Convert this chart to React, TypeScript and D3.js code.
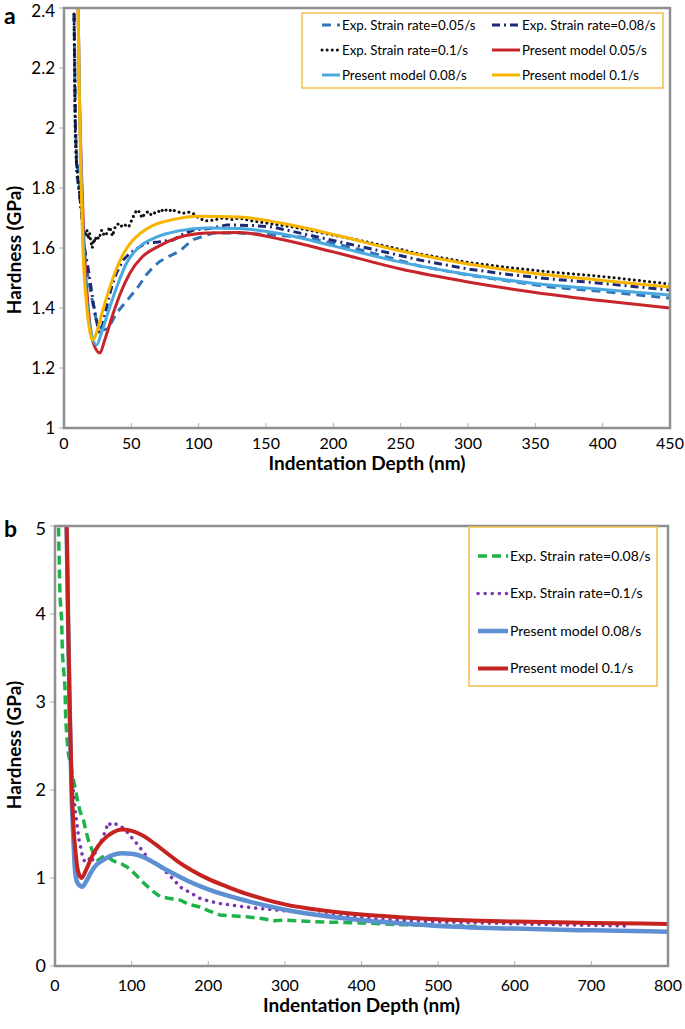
import React from "react";
import * as d3 from "d3";

type P = [number, number];

// ---------- Panel a data (Indentation depth nm, Hardness GPa) ----------
const aTicksX = [0, 50, 100, 150, 200, 250, 300, 350, 400, 450];
const aTicksY = [1, 1.2, 1.4, 1.6, 1.8, 2, 2.2, 2.4];

const aExp005: P[] = [
  [7.5, 2.38], [8, 2.2], [8.5, 2.0], [9.5, 1.9], [11, 1.82], [12.5, 1.78], [13.5, 1.7], [14.5, 1.62],
  [16, 1.55], [18, 1.5], [20, 1.45], [22, 1.4], [24, 1.36], [26, 1.34], [29, 1.327], [32, 1.33],
  [35, 1.35], [39, 1.383], [44, 1.41], [49, 1.437], [55, 1.47], [61, 1.51], [66, 1.535], [71, 1.555],
  [78, 1.572], [86, 1.59], [91, 1.61], [96, 1.628], [104, 1.64], [111, 1.65], [130, 1.65], [150, 1.645],
  [180, 1.635], [210, 1.605], [240, 1.57], [264, 1.54], [300, 1.51], [330, 1.49], [361, 1.47],
  [400, 1.455], [450, 1.433],
];
const aExp008: P[] = [
  [7.5, 2.38], [8, 2.2], [8.5, 2.0], [9.5, 1.85], [11, 1.8], [13, 1.72], [14.5, 1.62], [16, 1.58],
  [18, 1.53], [20, 1.47], [22, 1.41], [24, 1.36], [26, 1.32], [28, 1.33], [30, 1.37], [33, 1.43],
  [36, 1.48], [39, 1.517], [44, 1.56], [49, 1.583], [55, 1.6], [61, 1.617], [70, 1.62], [81, 1.627],
  [88, 1.645], [96, 1.66], [108, 1.665], [121, 1.677], [140, 1.675], [155, 1.67], [180, 1.645],
  [210, 1.615], [240, 1.585], [264, 1.56], [300, 1.53], [330, 1.512], [361, 1.497], [400, 1.482], [450, 1.46],
];
const aExp01: P[] = [
  [7.4, 2.38], [7.6, 2.3], [7.8, 2.2], [8, 2.1], [8.3, 2.0], [8.6, 1.95], [9, 1.9], [10, 1.85],
  [11, 1.8], [12, 1.76], [13, 1.72], [14, 1.68], [15, 1.66], [16, 1.64], [17, 1.66], [18, 1.63],
  [19, 1.65], [20, 1.62], [21, 1.6], [22, 1.63], [23, 1.62], [24, 1.64], [26, 1.63], [28, 1.66],
  [30, 1.64], [32, 1.65], [34, 1.67], [36, 1.64], [38, 1.67], [40, 1.68], [42, 1.67], [44, 1.68],
  [46, 1.675], [48, 1.67], [50, 1.69], [52, 1.71], [54, 1.727], [56, 1.72], [58, 1.7], [60, 1.715],
  [62, 1.72], [64, 1.71], [66, 1.72], [68, 1.715], [70, 1.72], [72, 1.73], [74, 1.72], [76, 1.727],
  [78, 1.73], [80, 1.72], [82, 1.725], [85, 1.72], [88, 1.715], [92, 1.72], [96, 1.715], [100, 1.7],
  [105, 1.69], [111, 1.693], [118, 1.7], [125, 1.695], [130, 1.7], [140, 1.69], [155, 1.68],
  [170, 1.67], [192, 1.65], [220, 1.625], [250, 1.595], [264, 1.58], [300, 1.552], [330, 1.535],
  [361, 1.52], [400, 1.505], [430, 1.49], [450, 1.48],
];
const aModel005: P[] = [
  [9.8, 2.6], [10.5, 2.4], [11.5, 2.1], [13, 1.85], [15, 1.6], [18, 1.4], [21.8, 1.283], [26.7, 1.25],
  [30, 1.29], [36.6, 1.383], [42, 1.45], [49, 1.517], [58, 1.57], [69, 1.603], [85, 1.635], [106, 1.65],
  [130, 1.652], [160, 1.63], [200, 1.587], [250, 1.53], [300, 1.487], [350, 1.452], [400, 1.424], [450, 1.4],
];
const aModel008: P[] = [
  [9.8, 2.6], [10.5, 2.4], [11.5, 2.1], [12.8, 1.85], [14.5, 1.6], [17, 1.42], [20, 1.32], [24.3, 1.277],
  [28, 1.32], [34, 1.403], [40, 1.48], [46.5, 1.55], [55, 1.6], [69, 1.637], [85, 1.657], [106, 1.667],
  [130, 1.665], [160, 1.648], [200, 1.607], [250, 1.553], [300, 1.512], [350, 1.482], [400, 1.462], [450, 1.443],
];
const aModel01: P[] = [
  [9.8, 2.6], [10.5, 2.4], [11.4, 2.1], [12.5, 1.85], [14, 1.6], [16, 1.45], [18.5, 1.34], [21.5, 1.293],
  [25, 1.33], [28, 1.38], [32, 1.44], [38, 1.52], [44, 1.58], [50, 1.62], [57, 1.65], [65, 1.673],
  [81, 1.695], [100, 1.706], [130, 1.703], [160, 1.684], [200, 1.645], [250, 1.59], [300, 1.547],
  [350, 1.515], [400, 1.492], [450, 1.47],
];
const aLegendLabels = [
  "Exp. Strain rate=0.05/s", "Exp. Strain rate=0.08/s", "Exp. Strain rate=0.1/s",
  "Present model 0.05/s", "Present model 0.08/s", "Present model 0.1/s",
];

// ---------- Panel b data ----------
const bTicksX = [0, 100, 200, 300, 400, 500, 600, 700, 800];
const bTicksY = [0, 1, 2, 3, 4, 5];

const bExp008: P[] = [
  [4, 5.3], [5, 4.8], [6.5, 4.2], [8.7, 3.93], [9.6, 3.56], [11, 3.4], [13, 3.17], [14, 2.8],
  [15.5, 2.6], [17.4, 2.42], [20, 2.3], [23, 2.15], [26, 2.04], [30, 1.85], [33, 1.75], [37, 1.66],
  [40, 1.55], [43.5, 1.43], [47, 1.35], [50, 1.28], [56.5, 1.2], [62, 1.24], [69.6, 1.24], [75, 1.2],
  [80, 1.18], [87, 1.16], [95, 1.12], [104, 1.05], [115, 0.95], [126, 0.86], [137, 0.79], [148, 0.77],
  [163, 0.75], [175, 0.7], [189, 0.67], [200, 0.63], [215, 0.58], [230, 0.57], [250, 0.56], [270, 0.54],
  [285, 0.515], [300, 0.52], [350, 0.5], [400, 0.49], [450, 0.47], [500, 0.46], [550, 0.45],
];
const bExp01: P[] = [
  [14, 5.3], [16, 4.5], [17, 3.93], [18, 3.3], [19.5, 2.6], [21, 2.3], [23.5, 2.03], [26, 1.8],
  [28, 1.66], [31, 1.45], [35, 1.28], [38, 1.2], [41, 1.18], [45, 1.22], [48, 1.18], [52, 1.28],
  [56, 1.36], [61, 1.43], [65, 1.52], [69.6, 1.63], [73, 1.6], [78, 1.62], [82, 1.6], [87, 1.58],
  [92, 1.55], [96, 1.5], [104, 1.42], [113, 1.32], [124, 1.2], [130, 1.17], [140, 1.11], [146, 1.06],
  [155, 0.98], [163, 0.9], [175, 0.84], [189, 0.77], [200, 0.74], [215, 0.71], [240, 0.68], [260, 0.66],
  [285, 0.64], [320, 0.61], [372, 0.57], [424, 0.53], [503, 0.5], [600, 0.48], [680, 0.465], [746, 0.455],
];
const bModel008: P[] = [
  [14, 5.6], [15.2, 5.0], [17, 4.0], [19, 3.0], [21.5, 2.0], [24, 1.45], [26, 1.1], [29, 0.95],
  [33, 0.91], [35.7, 0.9], [40, 0.95], [46, 1.05], [52, 1.13], [62, 1.2], [75, 1.26], [87, 1.28],
  [100, 1.275], [115, 1.24], [130, 1.17], [150, 1.07], [175, 0.96], [200, 0.87], [250, 0.74],
  [300, 0.64], [350, 0.57], [400, 0.52], [450, 0.485], [500, 0.455], [600, 0.425], [700, 0.405], [800, 0.39],
];
const bModel01: P[] = [
  [14, 5.6], [15.2, 5.0], [17, 4.0], [19, 3.0], [21.8, 2.03], [24, 1.6], [27, 1.28], [30, 1.08],
  [34.8, 1.0], [40, 1.08], [48, 1.24], [56, 1.36], [65, 1.45], [76, 1.52], [87, 1.55], [100, 1.535],
  [115, 1.48], [130, 1.39], [145, 1.29], [160, 1.19], [180, 1.08], [200, 0.99], [225, 0.9], [250, 0.82],
  [275, 0.755], [300, 0.7], [350, 0.63], [400, 0.585], [450, 0.555], [500, 0.53], [600, 0.505],
  [700, 0.49], [800, 0.478],
];
const bLegendLabels = [
  "Exp. Strain rate=0.08/s", "Exp. Strain rate=0.1/s", "Present model 0.08/s", "Present model 0.1/s",
];

const FONT = "Lato, 'Open Sans', sans-serif";
const FRAME = "#8f8f8f";

type Series = { data: P[]; color: string; width: number; dash?: string; cap?: string; smooth?: boolean };

function Panel(props: {
  id: string;
  x: d3.ScaleLinear<number, number>;
  y: d3.ScaleLinear<number, number>;
  ticksX: number[];
  ticksY: number[];
  fmtY: (v: number) => string;
  series: Series[];
  yFont: number;
  yTitleY: number;
  xTitleY: number;
  xLabelY: number;
  letter: string;
  letterY: number;
}) {
  const { id, x, y, ticksX, ticksY, series } = props;
  const [x0, x1] = x.range();
  const [y0, y1] = y.range(); // y0 bottom, y1 top
  return (
    <g>
      <defs>
        <clipPath id={id}>
          <rect x={x0} y={y1} width={x1 - x0} height={y0 - y1} />
        </clipPath>
      </defs>
      <text x={4} y={props.letterY} fontFamily={FONT} fontWeight="bold" fontSize={23} fill="#000">
        {props.letter}
      </text>
      {ticksX.slice(1, -1).map((t) => (
        <line key={"xt" + t} x1={x(t)} x2={x(t)} y1={y0} y2={y0 - 5} stroke="#b0b0b0" strokeWidth={1} />
      ))}
      {ticksY.map((t) => (
        <line key={"yt" + t} x1={x0 - 5} x2={x0} y1={y(t)} y2={y(t)} stroke="#b0b0b0" strokeWidth={1} />
      ))}
      {ticksX.map((t) => (
        <text key={"xl" + t} x={x(t)} y={props.xLabelY} textAnchor="middle" fontFamily={FONT} fontSize={16} fill="#000">
          {t}
        </text>
      ))}
      {ticksY.map((t) => (
        <text
          key={"yl" + t}
          x={x0 - 9}
          y={Math.max(y(t), y1 + 3)}
          dy="0.35em"
          textAnchor="end"
          fontFamily={FONT}
          fontSize={props.yFont}
          fill="#000"
        >
          {props.fmtY(t)}
        </text>
      ))}
      <g clipPath={`url(#${id})`}>
        {series.map((s, i) => {
          const gen = d3
            .line<P>()
            .x((d) => x(d[0]))
            .y((d) => y(d[1]))
            .curve(s.smooth ? d3.curveMonotoneX : d3.curveLinear);
          return (
            <path
              key={i}
              d={gen(s.data) || ""}
              fill="none"
              stroke={s.color}
              strokeWidth={s.width}
              strokeDasharray={s.dash}
              strokeLinecap={(s.cap as any) || "butt"}
              strokeLinejoin="round"
            />
          );
        })}
      </g>
      <rect x={x0} y={y1} width={x1 - x0} height={y0 - y1} fill="none" stroke={FRAME} strokeWidth={2.5} />
      <text
        transform={`translate(14,${props.yTitleY}) rotate(-90)`}
        textAnchor="middle"
        dy="0.35em"
        fontFamily={FONT}
        fontWeight="bold"
        fontSize={19}
        fill="#000"
      >
        Hardness (GPa)
      </text>
      <text x={(x0 + x1) / 2} y={props.xTitleY} textAnchor="middle" fontFamily={FONT} fontWeight="bold" fontSize={19} fill="#000">
        Indentation Depth (nm)
      </text>
    </g>
  );
}

export default function App() {
  const xA = d3.scaleLinear().domain([0, 450]).range([64, 670]);
  const yA = d3.scaleLinear().domain([1, 2.4]).range([428, 8]);
  const xB = d3.scaleLinear().domain([0, 800]).range([55, 668]);
  const yB = d3.scaleLinear().domain([0, 5]).range([966, 526]);

  const C = {
    blueDash: "#2f74b5",
    navy: "#1d2a78",
    black: "#111111",
    red: "#c8242b",
    lightBlue: "#4aa9de",
    yellow: "#f7b500",
    green: "#1fb24a",
    purple: "#7a35b0",
    steel: "#5d8fd2",
    red2: "#c4231f",
  };

  const aSeries: Series[] = [
    { data: aExp005, color: C.blueDash, width: 3, dash: "9,6" },
    { data: aExp008, color: C.navy, width: 3, dash: "8,4,2,4" },
    { data: aExp01, color: C.black, width: 3, dash: "0.1,5", cap: "round" },
    { data: aModel005, color: C.red, width: 3, smooth: true },
    { data: aModel008, color: C.lightBlue, width: 3, smooth: true },
    { data: aModel01, color: C.yellow, width: 3, smooth: true },
  ];

  const bSeries: Series[] = [
    { data: bExp008, color: C.green, width: 3.5, dash: "9,5" },
    { data: bExp01, color: C.purple, width: 3.5, dash: "0.1,7", cap: "round" },
    { data: bModel008, color: C.steel, width: 4.5, smooth: true },
    { data: bModel01, color: C.red2, width: 4, smooth: true },
  ];

  const aLegX = [322, 492];
  const aLegY = [25, 50, 75];

  return (
    <svg
      width={685}
      height={1029}
      viewBox="0 0 685 1029"
      style={{ position: "absolute", left: 0, top: 0, background: "#fff" }}
    >
      <rect x={0} y={0} width={685} height={1029} fill="#fff" />
      <Panel
        id="clipA"
        x={xA}
        y={yA}
        ticksX={aTicksX}
        ticksY={aTicksY}
        fmtY={(v) => String(+v.toFixed(1))}
        series={aSeries}
        yFont={17}
        yTitleY={250}
        xTitleY={470}
        xLabelY={449}
        letter="a"
        letterY={24}
      />
      <rect x={302} y={13} width={361} height={75} fill="#fff" stroke="#f2c14a" strokeWidth={1.5} />
      {aLegendLabels.map((lab, i) => {
        const col = i % 2;
        const row = Math.floor(i / 2);
        const s = aSeries[i];
        const lx = aLegX[col];
        const ly = aLegY[row];
        const len = col === 1 ? 28 : 18;
        return (
          <g key={lab}>
            <line
              x1={lx}
              x2={lx + len}
              y1={ly}
              y2={ly}
              stroke={s.color}
              strokeWidth={3}
              strokeDasharray={s.dash}
              strokeLinecap={(s.cap as any) || "butt"}
            />
            <text x={lx + len + 2} y={ly} dy="0.35em" fontFamily={FONT} fontSize={13.3} fill="#000">
              {lab}
            </text>
          </g>
        );
      })}

      <Panel
        id="clipB"
        x={xB}
        y={yB}
        ticksX={bTicksX}
        ticksY={bTicksY}
        fmtY={(v) => String(v)}
        series={bSeries}
        yFont={18}
        yTitleY={745}
        xTitleY={1012}
        xLabelY={991}
        letter="b"
        letterY={537}
      />
      <rect x={469} y={527} width={188} height={159} fill="#fff" stroke="#f2c14a" strokeWidth={1.5} />
      {bLegendLabels.map((lab, i) => {
        const s = bSeries[i];
        const ly = 556 + i * 37.5;
        return (
          <g key={lab}>
            <line
              x1={478}
              x2={508}
              y1={ly}
              y2={ly}
              stroke={s.color}
              strokeWidth={s.width}
              strokeDasharray={s.dash}
              strokeLinecap={(s.cap as any) || "butt"}
            />
            <text x={510} y={ly} dy="0.35em" fontFamily={FONT} fontSize={14} fill="#000">
              {lab}
            </text>
          </g>
        );
      })}
    </svg>
  );
}
